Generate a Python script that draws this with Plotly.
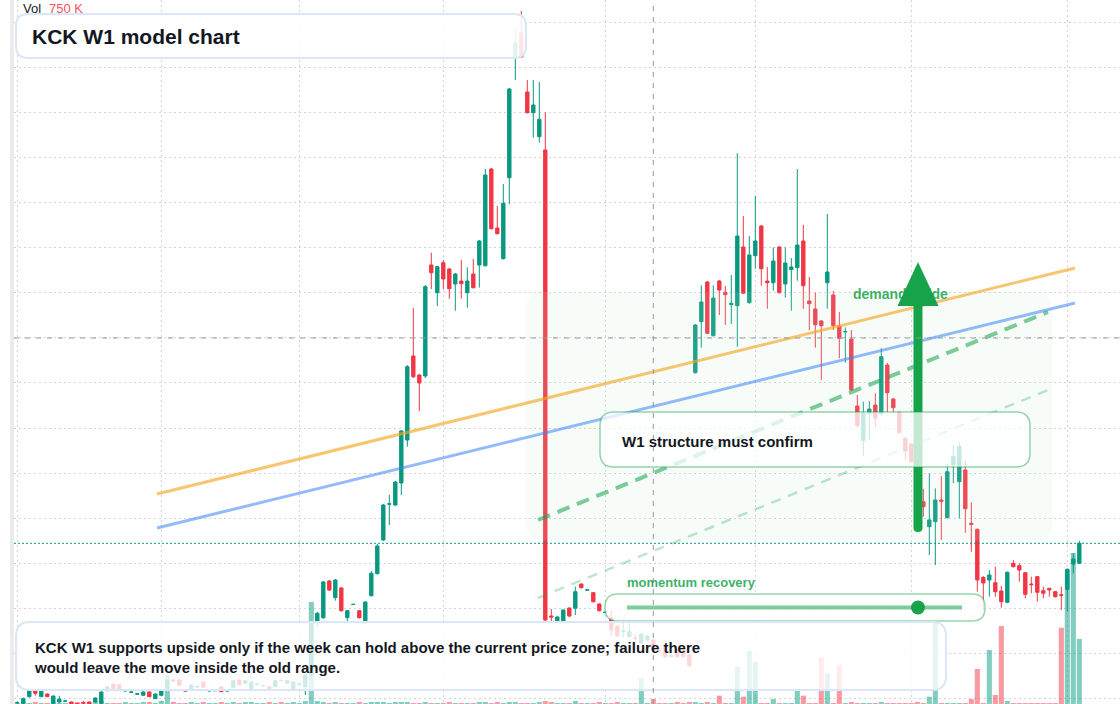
import plotly.graph_objects as go

# ---------------- data (weekly bars, arbitrary price units) ----------------
week_index = list(range(178))

opens = [1.0, 0.7, 7.3, 13.3, 7.3, 10.0, 0.7, 2.0, 2.8, 2.0,
         0.5, 1.5, 2.0, 2.0, 0.7, 13.3, 20.0, 19.5, 13.0, 11.6,
         9.8, 8.7, 12.0, 5.3, 8.7, 14.0, 24.0, 24.0, 13.7, 14.0,
         17.0, 22.0, 13.0, 13.2, 17.3, 13.0, 16.7, 24.0, 20.7, 15.3,
         19.5, 18.1, 17.3, 17.3, 23.9, 20.7, 15.0, 19.5, 17.3, 29.0,
         82.3, 86.3, 123.0, 106.3, 116.0, 86.3, 99.5, 93.3, 81.0, 108.3,
         130.3, 164.0, 199.8, 199.0, 221.0, 264.0, 348.0, 329.0, 328.0, 439.0,
         411.3, 441.3, 435.0, 420.0, 423.0, 411.3, 430.0, 439.0, 438.3, 535.0,
         476.0, 445.3, 526.3, 646.0, 671.0, 612.0, 591.3, 567.3, 554.0, 88.0,
         82.3, 82.3, 96.0, 95.7, 120.0, 113.8, 111.3, 100.0, 91.5, 86.0,
         78.0, 72.8, 67.3, 66.0, 61.0, 64.0, 64.0, 54.0, 57.0, 47.5,
         54.0, 52.3, 49.0, 331.3, 382.3, 422.0, 368.3, 423.0, 411.7, 399.3,
         398.3, 457.0, 401.3, 448.3, 478.0, 423.0, 421.3, 457.0, 420.0, 434.3,
         436.3, 463.0, 403.0, 395.0, 383.0, 421.3, 409.0, 378.0, 372.0, 365.0,
         298.0, 263.3, 290.7, 299.0, 290.7, 339.0, 305.0, 291.7, 265.7, 260.0,
         239.0, 202.3, 177.3, 182.3, 204.0, 186.3, 239.0, 222.3, 234.0, 180.7,
         174.7, 126.5, 124.0, 121.3, 113.0, 101.7, 140.7, 138.3, 131.3, 120.0,
         127.3, 113.3, 115.7, 112.3, 109.3, 114.7, 140.0, 140.7]

highs = [2.5, 6.5, 14.5, 14.0, 14.0, 10.5, 8.5, 8.3, 3.5, 2.5,
         0.8, 3.0, 2.5, 6.5, 12.5, 18.0, 20.5, 20.0, 14.0, 12.5,
         10.5, 13.0, 12.5, 10.5, 15.0, 25.0, 25.0, 24.5, 14.0, 20.0,
         18.5, 22.5, 14.0, 15.0, 18.0, 14.0, 24.0, 24.5, 24.0, 23.0,
         20.5, 19.0, 18.0, 24.0, 24.5, 24.0, 23.0, 21.0, 30.0, 82.0,
         92.0, 123.0, 124.0, 125.0, 117.0, 94.0, 100.0, 94.0, 102.5, 133.0,
         160.0, 200.0, 209.0, 223.0, 274.0, 339.0, 396.0, 330.0, 419.0, 451.3,
         438.0, 444.0, 436.0, 431.0, 444.0, 436.7, 445.0, 464.0, 535.0, 536.0,
         498.0, 520.0, 616.0, 676.0, 693.0, 624.0, 624.0, 622.0, 591.7, 95.0,
         87.5, 94.5, 96.5, 117.3, 120.5, 114.5, 112.0, 100.5, 92.2, 94.0,
         79.0, 84.0, 84.0, 70.0, 71.0, 69.0, 65.0, 56.0, 58.0, 49.5,
         55.0, 53.0, 50.0, 380.0, 418.7, 423.0, 418.7, 424.0, 418.0, 429.0,
         550.7, 488.0, 468.0, 508.0, 479.0, 437.0, 456.7, 458.0, 456.7, 446.0,
         535.0, 479.0, 427.0, 411.3, 384.0, 490.0, 413.0, 392.0, 376.7, 374.0,
         309.0, 302.3, 303.0, 310.7, 355.7, 341.0, 306.0, 292.5, 266.5, 261.0,
         242.0, 215.0, 230.7, 215.7, 228.0, 240.0, 259.0, 261.3, 243.3, 201.7,
         175.5, 128.0, 134.0, 137.3, 118.0, 132.5, 144.0, 140.7, 132.0, 127.3,
         128.0, 117.3, 116.2, 113.0, 117.3, 135.5, 150.7, 163.3]

lows = [0.0, 0.0, 6.5, 8.3, 7.0, 7.0, 0.0, 0.7, 2.5, 0.0,
        0.0, 0.0, 0.0, 1.5, 0.0, 13.0, 14.5, 14.5, 12.5, 11.5,
        9.5, 8.0, 7.0, 5.0, 8.0, 13.5, 22.0, 18.0, 12.5, 13.5,
        16.0, 16.0, 12.5, 13.0, 12.0, 12.5, 16.0, 19.0, 20.0, 14.5,
        19.0, 17.5, 14.5, 17.0, 23.0, 20.0, 14.5, 18.5, 9.0, 26.0,
        77.3, 85.0, 113.0, 103.3, 92.5, 82.3, 99.0, 85.5, 80.5, 107.5,
        129.5, 163.0, 179.0, 198.0, 209.0, 257.3, 326.0, 293.0, 326.0, 415.0,
        398.0, 414.7, 405.3, 393.3, 405.3, 396.3, 415.5, 416.3, 437.5, 474.5,
        469.5, 444.5, 499.7, 624.0, 646.0, 590.5, 566.3, 561.3, 83.0, 81.0,
        81.5, 81.5, 86.7, 89.0, 115.5, 113.5, 101.5, 92.5, 91.2, 68.0,
        67.0, 67.0, 66.5, 62.0, 60.0, 63.0, 53.0, 52.0, 46.0, 46.5,
        46.0, 46.0, 37.0, 330.5, 356.3, 370.0, 367.5, 389.0, 379.0, 380.0,
        357.3, 410.0, 400.5, 435.3, 418.3, 395.3, 413.3, 410.5, 406.3, 393.3,
        423.3, 395.3, 374.0, 356.3, 324.0, 395.3, 374.0, 345.7, 341.3, 313.0,
        276.0, 248.3, 264.0, 276.7, 288.3, 292.0, 292.0, 270.5, 244.0, 241.5,
        204.0, 187.3, 149.0, 139.0, 164.0, 185.5, 220.7, 185.7, 171.3, 152.3,
        112.3, 93.3, 107.3, 107.3, 96.3, 100.7, 136.5, 122.3, 105.7, 110.7,
        102.3, 105.7, 107.3, 106.5, 94.0, 92.3, 130.7, 140.0]

closes = [1.5, 5.3, 13.3, 10.7, 13.3, 7.3, 8.0, 5.0, 3.0, 0.2,
          0.1, 1.0, 0.2, 6.0, 12.0, 17.3, 15.0, 15.0, 13.5, 12.0,
          10.2, 12.0, 7.3, 10.0, 14.0, 24.0, 23.0, 18.7, 13.0, 19.0,
          17.5, 16.7, 13.5, 13.6, 12.3, 13.4, 23.3, 19.3, 23.3, 22.0,
          19.9, 18.5, 15.0, 23.3, 23.5, 23.3, 22.0, 19.9, 29.0, 81.0,
          90.7, 122.0, 114.0, 124.0, 93.3, 93.3, 99.7, 86.3, 102.0, 130.7,
          158.0, 199.0, 200.2, 222.0, 273.0, 337.3, 327.3, 321.0, 417.3, 431.3,
          437.3, 425.0, 415.3, 430.0, 420.3, 423.0, 416.3, 463.0, 529.0, 475.3,
          470.3, 500.7, 615.0, 661.0, 647.0, 591.3, 599.0, 584.7, 84.0, 87.0,
          87.0, 94.0, 88.0, 112.3, 116.3, 114.2, 102.3, 93.3, 91.9, 74.0,
          68.0, 73.2, 72.3, 65.4, 70.0, 68.0, 54.0, 53.5, 47.3, 48.5,
          47.3, 47.3, 38.3, 379.0, 402.0, 370.7, 406.0, 414.0, 409.3, 400.7,
          468.0, 410.7, 449.0, 463.0, 435.3, 421.3, 443.0, 411.3, 441.0, 437.0,
          459.0, 418.3, 400.3, 379.3, 378.3, 432.0, 378.3, 365.7, 372.5, 314.0,
          278.3, 290.7, 295.0, 285.7, 347.3, 311.3, 296.3, 271.3, 253.0, 242.3,
          206.0, 197.3, 184.0, 204.0, 202.7, 232.3, 247.3, 257.3, 195.3, 179.7,
          124.0, 121.0, 129.0, 112.3, 102.3, 131.7, 137.3, 134.0, 109.7, 119.4,
          111.7, 110.7, 114.0, 107.3, 108.7, 134.7, 145.0, 160.7]

volume_k = [150, 300, 150, 300, 150, 150, 300, 150, 150, 300,
            300, 150, 150, 300, 450, 150, 150, 150, 300, 150,
            150, 300, 300, 150, 450, 4350, 300, 150, 150, 300,
            150, 300, 150, 150, 300, 150, 300, 150, 300, 300,
            150, 150, 300, 150, 300, 150, 300, 150, 450, 15300,
            450, 300, 150, 300, 150, 150, 150, 300, 150, 300,
            300, 300, 150, 300, 300, 300, 150, 150, 300, 150,
            150, 150, 300, 150, 150, 150, 150, 300, 300, 150,
            300, 150, 300, 300, 150, 150, 150, 300, 450, 300,
            150, 150, 150, 450, 150, 150, 150, 300, 150, 150,
            300, 150, 150, 150, 3950, 150, 750, 150, 150, 150,
            300, 150, 300, 300, 150, 300, 150, 1250, 150, 150,
            5600, 1100, 7950, 6300, 150, 150, 750, 150, 150, 150,
            1950, 1250, 150, 150, 6950, 4600, 150, 5850, 150, 300,
            150, 150, 150, 150, 300, 150, 150, 150, 150, 150,
            300, 150, 1100, 12300, 150, 150, 150, 150, 150, 750,
            5250, 150, 8100, 1350, 11700, 450, 150, 150, 150, 150,
            150, 150, 150, 150, 11450, 20100, 22650, 9750]

hover_week = 106                      # crosshair bar (Vol 750 K)
crosshair_price = 366.0
half_year_ticks = [0, 24, 47, 71, 98, 123, 149, 175]

trend_x = [23.28, 176.28]
orange_trend = [210.0, 436.0]
blue_trend = [176.0, 401.0]
channel_x = [86.78, 171.78]
channel_upper = [184.0, 392.0]
channel_lower = [106.0, 314.0]

# ---------------- styling ----------------
UP, DOWN = "#089981", "#f23645"
UP_VOL, DOWN_VOL = "rgba(8,153,129,0.5)", "rgba(242,54,69,0.5)"
GRID = "#d1d4dc"
TXT = "#131722"
GREEN = "#16a34a"
GREEN_TXT = "rgba(22,163,74,0.85)"
FONT = "Liberation Sans, Arial, sans-serif"

W, H, LM = 1120, 704, 14


def fx(p):
    return (p - LM) / (W - LM)


def fy(p):
    return 1 - p / H


def rounded(x0, y0, x1, y1, r):
    def P(x, y):
        return f"{fx(x):.6f},{fy(y):.6f}"
    return (f"M{P(x0 + r, y0)} L{P(x1 - r, y0)} Q{P(x1, y0)} {P(x1, y0 + r)} "
            f"L{P(x1, y1 - r)} Q{P(x1, y1)} {P(x1 - r, y1)} L{P(x0 + r, y1)} "
            f"Q{P(x0, y1)} {P(x0, y1 - r)} L{P(x0, y0 + r)} Q{P(x0, y0)} {P(x0 + r, y0)} Z")


vol_colors = [UP_VOL if c >= o else DOWN_VOL for o, c in zip(opens, closes)]

fig = go.Figure()
fig.add_trace(go.Bar(x=week_index, y=volume_k, marker_color=vol_colors,
                     marker_line_width=0, width=0.85, yaxis="y",
                     hoverinfo="skip", showlegend=False))
fig.add_trace(go.Candlestick(
    x=week_index, open=opens, high=highs, low=lows, close=closes, yaxis="y2",
    increasing=dict(line=dict(color=UP, width=1), fillcolor=UP),
    decreasing=dict(line=dict(color=DOWN, width=1), fillcolor=DOWN),
    whiskerwidth=0, showlegend=False))

shapes = []
# left scale separator strip
shapes.append(dict(type="rect", xref="paper", yref="paper", x0=fx(10), x1=fx(14),
                   y0=0, y1=1, line=dict(width=0), fillcolor="#ebebeb"))
# last price line
shapes.append(dict(type="line", xref="paper", yref="y2", x0=0, x1=1,
                   y0=closes[-1], y1=closes[-1],
                   line=dict(color=UP, width=1, dash="2px,2px")))
# demand zone
shapes.append(dict(type="path", xref="paper", yref="paper",
                   path=rounded(526, 292, 1052, 540, 16),
                   fillcolor="rgba(190,235,205,0.13)", line=dict(width=0)))
# trend lines
shapes.append(dict(type="line", xref="x", yref="y2", x0=trend_x[0], x1=trend_x[1],
                   y0=orange_trend[0], y1=orange_trend[1],
                   line=dict(color="rgba(245,166,35,0.65)", width=3)))
shapes.append(dict(type="line", xref="x", yref="y2", x0=trend_x[0], x1=trend_x[1],
                   y0=blue_trend[0], y1=blue_trend[1],
                   line=dict(color="rgba(59,130,246,0.55)", width=3)))
shapes.append(dict(type="line", xref="x", yref="y2", x0=channel_x[0], x1=channel_x[1],
                   y0=channel_upper[0], y1=channel_upper[1],
                   line=dict(color="rgba(22,163,74,0.55)", width=4, dash="13px,8px")))
shapes.append(dict(type="line", xref="x", yref="y2", x0=channel_x[0], x1=channel_x[1],
                   y0=channel_lower[0], y1=channel_lower[1],
                   line=dict(color="rgba(22,163,74,0.28)", width=2.5, dash="10px,8px")))
# demand guide label (under the arrow)
shapes.append(dict(type="rect", xref="paper", yref="paper", x0=fx(850), x1=fx(990),
                   y0=fy(303), y1=fy(283), line=dict(width=0),
                   fillcolor="rgba(0,0,0,0)",
                   label=dict(text="<b>demand guide</b>", textposition="middle left",
                              padding=0, font=dict(size=14, color=GREEN_TXT, family=FONT))))
# arrow
shapes.append(dict(type="path", xref="paper", yref="paper",
                   path=rounded(913.5, 296, 922.5, 532, 4.5),
                   fillcolor=GREEN, line=dict(width=0)))
shapes.append(dict(type="path", xref="paper", yref="paper",
                   path=f"M{fx(918)},{fy(262)} L{fx(897.5)},{fy(306)} L{fx(938.5)},{fy(306)} Z",
                   fillcolor=GREEN, line=dict(width=0)))
# W1 box
shapes.append(dict(type="path", xref="paper", yref="paper",
                   path=rounded(600, 412, 1030, 467, 14),
                   fillcolor="rgba(255,255,255,0.75)",
                   line=dict(color="rgba(22,163,74,0.45)", width=1.5)))
# momentum slider
shapes.append(dict(type="path", xref="paper", yref="paper",
                   path=rounded(605, 594, 985, 621, 13),
                   fillcolor="rgba(255,255,255,0.8)",
                   line=dict(color="rgba(22,163,74,0.45)", width=1.5)))
shapes.append(dict(type="line", xref="paper", yref="paper", x0=fx(627), x1=fx(962),
                   y0=fy(607.5), y1=fy(607.5),
                   line=dict(color="rgba(22,163,74,0.55)", width=4)))
shapes.append(dict(type="circle", xref="paper", yref="paper", x0=fx(911), x1=fx(925),
                   y0=fy(614.5), y1=fy(600.5), fillcolor=GREEN, line=dict(width=0)))
# bottom note box
shapes.append(dict(type="path", xref="paper", yref="paper",
                   path=rounded(16, 622, 946, 690, 14),
                   fillcolor="rgba(255,255,255,0.8)",
                   line=dict(color="#dbe6f7", width=2)))
# title box
shapes.append(dict(type="path", xref="paper", yref="paper",
                   path=rounded(16, 14, 526, 58, 12),
                   fillcolor="rgba(255,255,255,0.88)",
                   line=dict(color="#dbe6f7", width=2)))
# crosshair (topmost)
shapes.append(dict(type="line", xref="paper", yref="y2", x0=0, x1=1,
                   y0=crosshair_price, y1=crosshair_price,
                   line=dict(color="#9598a1", width=1, dash="5px,6px")))
shapes.append(dict(type="line", xref="x", yref="paper", x0=hover_week, x1=hover_week,
                   y0=0, y1=1, line=dict(color="#9598a1", width=1, dash="5px,6px")))

annotations = [
    dict(x=fx(31), y=fy(36), text="<b>KCK W1 model chart</b>",
         font=dict(size=21, color=TXT, family=FONT)),
    dict(x=fx(22), y=fy(8.5), text="Vol",
         font=dict(size=13, color=TXT, family=FONT)),
    dict(x=fx(48), y=fy(8.5), text=f"{volume_k[hover_week]} K",
         font=dict(size=13, color="#f7525f", family=FONT)),
    dict(x=fx(621), y=fy(441), text="<b>W1 structure must confirm</b>",
         font=dict(size=15, color=TXT, family=FONT)),
    dict(x=fx(626), y=fy(582.5), text="<b>momentum recovery</b>",
         font=dict(size=13, color=GREEN_TXT, family=FONT)),
    dict(x=fx(33), y=fy(657),
         text="<b>KCK W1 supports upside only if the week can hold above the current price zone; failure there<br>"
              "would leave the move inside the old range.</b>",
         align="left", font=dict(size=15, color=TXT, family=FONT)),
]
for a in annotations:
    a.update(xref="paper", yref="paper", xanchor="left", yanchor="middle",
             showarrow=False, borderpad=0)

fig.update_layout(
    width=W, height=H, autosize=False,
    margin=dict(l=LM, r=0, t=0, b=0, pad=0),
    paper_bgcolor="white", plot_bgcolor="white",
    showlegend=False, hovermode=False, boxgap=0.2,
    xaxis=dict(range=[-0.55, 183.78], tickvals=half_year_ticks, showticklabels=False,
               ticks="", showgrid=True, gridcolor=GRID, griddash="2px,3px", gridwidth=1,
               zeroline=False, showline=False, rangeslider=dict(visible=False)),
    yaxis=dict(range=[0, 105600], showgrid=False, showticklabels=False,
               zeroline=False, ticks=""),
    yaxis2=dict(range=[0, 704], overlaying="y", side="right", showgrid=True,
                tick0=140.7, dtick=45.1, gridcolor=GRID, griddash="2px,3px",
                showticklabels=False, zeroline=False, ticks="", showline=False),
    shapes=shapes, annotations=annotations,
    font=dict(family=FONT),
)

fig.write_html("out.html")
